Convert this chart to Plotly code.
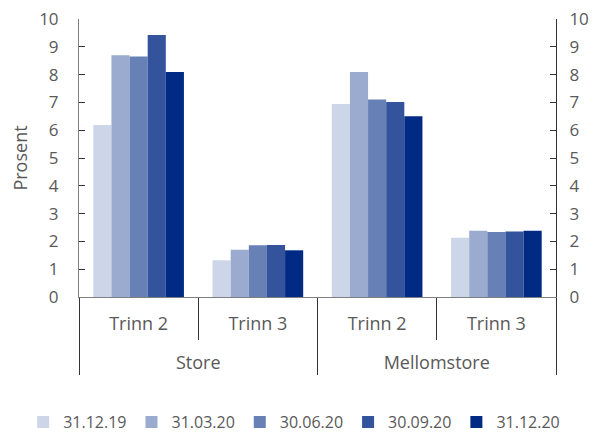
import plotly.graph_objects as go

outer = ["Store", "Store", "Mellomstore", "Mellomstore"]
inner = ["Trinn 2", "Trinn 3", "Trinn 2", "Trinn 3"]
series_names = ["31.12.19", "31.03.20", "30.06.20", "30.09.20", "31.12.20"]
s_311219 = [6.19, 1.32, 6.94, 2.13]
s_310320 = [8.70, 1.70, 8.09, 2.38]
s_300620 = [8.65, 1.86, 7.10, 2.34]
s_300920 = [9.42, 1.87, 7.01, 2.36]
s_311220 = [8.09, 1.68, 6.50, 2.38]
series_values = [s_311219, s_310320, s_300620, s_300920, s_311220]
colors = ["#cdd5e8", "#9aabcf", "#6780b5", "#33539c", "#002a84"]
y_ticks = list(range(0, 11))

# outer labels sit one line lower than the inner ones
outer_disp = ["<br>" + o for o in outer]
xcats = [outer_disp, inner]

fig = go.Figure()
for name, vals, col in zip(series_names, series_values, colors):
    fig.add_trace(go.Bar(x=xcats, y=vals, name=name,
                         marker=dict(color=col, line=dict(width=0))))

fig.add_trace(go.Scatter(x=xcats, y=s_311219, yaxis="y2",
                         mode="markers", marker=dict(opacity=0),
                         showlegend=False, hoverinfo="skip"))

font_color = "#595959"
fs = 18
yfs = 17
fig.update_layout(
    width=589, height=426,
    margin=dict(l=71, r=41, t=11, b=137, autoexpand=False),
    paper_bgcolor="white", plot_bgcolor="white",
    font=dict(family="Open Sans", size=fs, color=font_color),
    barmode="group", bargap=0.24, bargroupgap=0,
    showlegend=True,
    legend=dict(orientation="h", xref="paper", x=-0.117, xanchor="left",
                yref="paper", y=-0.389, yanchor="top",
                font=dict(size=16, color=font_color),
                bgcolor="rgba(255,255,255,0)", borderwidth=0,
                itemwidth=30, traceorder="normal"),
    xaxis=dict(type="multicategory", showline=True, linecolor="#7f7f7f",
               linewidth=1, ticks="outside", ticklen=42, tickcolor="#333333",
               tickson="boundaries", showdividers=True,
               dividercolor="#333333", dividerwidth=1, automargin=False,
               ticklabelstandoff=10,
               tickfont=dict(size=fs, color=font_color)),
    yaxis=dict(range=[0, 10], tickvals=y_ticks, ticks="inside", ticklen=6,
               tickcolor="#333333", showline=True, linecolor="#7f7f7f",
               showgrid=False, zeroline=False, ticklabelstandoff=16,
               ticklabeloverflow="allow", automargin=False,
               tickfont=dict(size=yfs, color=font_color),
               title=dict(text="Prosent", standoff=9,
                          font=dict(size=fs, color=font_color))),
    yaxis2=dict(range=[0, 10], tickvals=y_ticks, ticks="inside", ticklen=6,
                tickcolor="#333333", showline=True, linecolor="#333333",
                overlaying="y", side="right", showgrid=False, zeroline=False,
                ticklabelstandoff=9, ticklabeloverflow="allow",
                tickfont=dict(size=yfs, color=font_color),
                automargin=False),
)

fig.write_html("out.html")
